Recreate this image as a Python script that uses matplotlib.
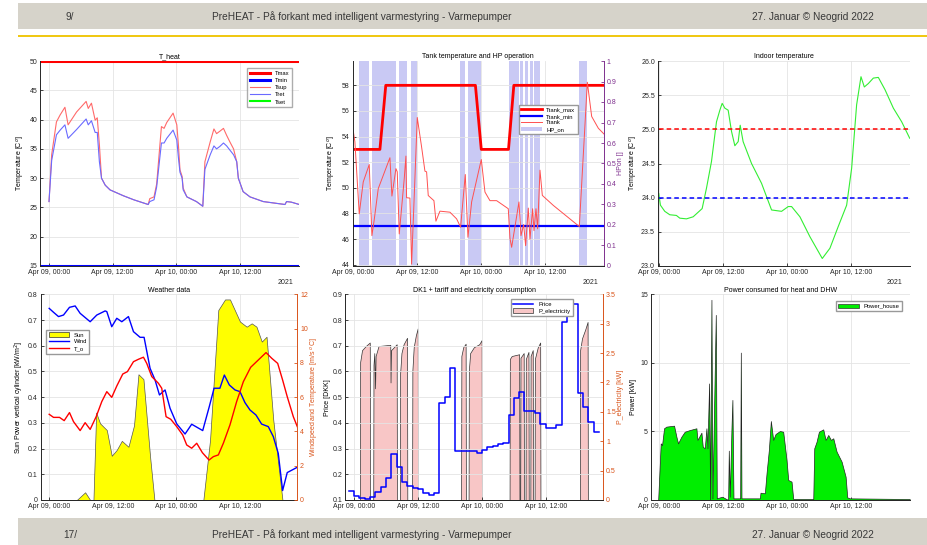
import matplotlib.pyplot as plt
from matplotlib.patches import Rectangle, Patch
from matplotlib.lines import Line2D

plt.rcParams['font.family'] = ['Liberation Sans', 'DejaVu Sans']
plt.rcParams['font.size'] = 5

# --- Zeitachse (Stunden ab Apr 09, 00:00) ---
tick_hours = [0, 12, 24, 36]
tick_labels = ['Apr 09, 00:00', 'Apr 09, 12:00', 'Apr 10, 00:00', 'Apr 10, 12:00']

# --- Panel 1: T_heat ---
heat_h = [0, 0.5, 1.4, 2.1, 3.0, 3.6, 5.2, 7.0, 7.4, 8.0, 8.7, 9.1, 9.5, 9.9, 10.6, 11.5, 14, 16,
          18.7, 19.0, 19.8, 20.3, 21.2, 21.7, 22.2, 23.4, 24.1, 24.4, 24.7, 25.1, 25.3, 26.0, 27.8,
          29.0, 29.4, 30.4, 31.1, 31.6, 32.2, 32.9, 33.5, 34.1, 34.8, 35.4, 35.7, 36.6, 37.9, 40.4,
          44.5, 44.8, 45.7, 47.2]
t_sup = [26.0, 34.0, 39.6, 40.8, 42.1, 39.1, 41.3, 43.1, 41.9, 42.8, 39.9, 40.3, 35.7, 30.0, 28.8,
         28.0, 27.0, 26.3, 25.5, 26.5, 26.8, 29.0, 38.8, 38.5, 39.5, 41.1, 39.1, 35.7, 31.4, 30.3,
         28.3, 26.8, 26.0, 25.2, 32.8, 36.2, 38.4, 37.6, 38.0, 38.5, 37.3, 36.2, 35.0, 32.8, 30.0,
         27.7, 26.8, 26.0, 25.5, 26.0, 25.9, 25.5]
t_ret = [26.0, 33.0, 37.4, 38.2, 39.1, 36.8, 38.3, 40.1, 39.1, 39.8, 37.8, 37.8, 32.8, 30.0, 28.8,
         28.0, 27.0, 26.3, 25.5, 26.0, 26.3, 28.5, 36.0, 36.0, 36.8, 38.2, 36.5, 33.5, 31.0, 30.0,
         28.0, 26.8, 26.0, 25.2, 31.5, 34.0, 35.5, 35.0, 35.4, 36.0, 35.5, 34.8, 34.0, 32.8, 30.0,
         27.7, 26.8, 26.0, 25.5, 26.0, 25.9, 25.5]
t_max_heat = 50
t_min_heat = 15

# --- Panel 2: Tank ---
tank_max_h = [0, 5.0, 6.1, 22.9, 24.0, 29.1, 30.1, 47.0]
tank_max_v = [53, 53, 58, 58, 53, 53, 58, 58]
tank_min = 47
tank_h = [0, 0.31, 1.125, 1.875, 3.0, 3.5, 3.94, 4.69, 6.875, 7.25, 8.0, 8.25, 8.625, 9.56, 9.875,
          10.0, 10.625, 10.94, 12.0, 12.81, 13.44, 13.75, 14.06, 15.125, 15.5, 16.25, 18.125,
          19.375, 20.125, 21.0, 21.5, 22.19, 24.0, 24.69, 25.625, 26.875, 29.06, 29.375, 29.69,
          31.06, 31.44, 31.94, 32.31, 32.81, 33.125, 33.625, 33.875, 34.25, 34.56, 35.0, 35.44,
          37.5, 42.375, 43.875, 44.69, 45.94, 47.0]
tank_v = [54.44, 53.6, 47.97, 50.46, 51.82, 46.27, 47.53, 49.94, 52.35, 49.36, 51.5, 51.25, 46.4,
          50.72, 52.48, 49.23, 49.2, 44.05, 55.49, 53.2, 51.3, 51.25, 49.4, 49.0, 47.4, 48.18,
          48.1, 47.58, 46.93, 51.04, 46.14, 48.9, 52.21, 49.67, 49.0, 49.0, 48.37, 46.06, 45.36,
          48.9, 46.27, 47.14, 45.49, 48.42, 46.0, 48.37, 46.66, 48.37, 46.8, 51.38, 49.41, 48.63,
          46.98, 58.24, 55.57, 54.65, 54.2]
hp_start = [1.1, 3.6, 8.6, 10.9, 20.1, 21.5, 29.2, 31.2, 32.2, 33.1, 33.9, 42.4]
hp_end = [3.0, 8.0, 10.0, 12.0, 21.0, 24.0, 31.1, 31.9, 32.8, 33.6, 35.0, 43.9]

# --- Panel 3: Indoor ---
indoor_h = [0, 0.31, 1.125, 2.06, 3.3, 3.94, 5.19, 6.44, 8.125, 8.94, 9.875, 10.81, 11.44, 11.875,
            12.375, 13.0, 13.625, 14.25, 14.875, 15.25, 15.8, 17.375, 19.25, 21.125, 23.0, 24.25,
            24.875, 26.44, 28.3, 30.625, 32.06, 33.625, 35.19, 36.125, 37.06, 37.875, 38.5, 39.25,
            40.19, 41.125, 42.375, 43.94, 45.5, 47.0]
indoor_v = [24.06, 23.89, 23.8, 23.75, 23.74, 23.7, 23.69, 23.72, 23.84, 24.14, 24.53, 25.11, 25.28,
            25.38, 25.31, 25.28, 24.97, 24.76, 24.82, 25.06, 24.82, 24.5, 24.21, 23.82, 23.8, 23.87,
            23.87, 23.72, 23.43, 23.11, 23.26, 23.58, 23.89, 24.43, 25.36, 25.77, 25.62, 25.67,
            25.75, 25.76, 25.58, 25.31, 25.11, 24.87]
indoor_upper = 25
indoor_lower = 24

# --- Panel 4: Weather ---
sun_h = [0, 5.2, 6.78, 7.73, 8.35, 8.86, 9.6, 10.87, 11.8, 12.75, 13.7, 14.95, 16.0, 16.84, 17.78,
         19.03, 19.85, 29.08, 30.34, 31.9, 33.17, 34.1, 35.99, 37.25, 38.2, 39.1, 40.1, 41.0,
         42.27, 44.0, 46.8]
sun_v = [0, 0, 0.03, 0, 0, 0.34, 0.298, 0.272, 0.172, 0.195, 0.23, 0.207, 0.29, 0.489, 0.47,
         0.169, 0, 0, 0.233, 0.739, 0.78, 0.78, 0.694, 0.674, 0.687, 0.674, 0.616, 0.635, 0.311,
         0, 0]
wind_h = [0, 0.82, 1.76, 2.7, 3.83, 4.9, 5.84, 7.73, 8.98, 10.55, 10.87, 11.8, 12.75, 13.7, 14.95,
          15.9, 17.15, 17.9, 19.03, 19.97, 20.8, 21.86, 22.8, 24.06, 25.63, 26.88, 28.96, 30.2,
          31.1, 32.2, 33.04, 33.98, 35.05, 35.99, 36.93, 37.88, 39.0, 40.07, 41.33, 42.27, 43.21,
          44.03, 44.9, 46.8]
wind_v = [11.18, 10.95, 10.7, 10.79, 11.24, 11.32, 10.89, 10.4, 10.79, 11.03, 10.99, 10.11, 10.6,
          10.4, 10.7, 9.82, 9.49, 9.49, 7.68, 7.0, 6.13, 6.42, 5.35, 4.44, 3.85, 4.42, 4.05, 5.45,
          6.52, 6.52, 7.29, 6.71, 6.42, 6.32, 5.68, 5.25, 4.96, 4.43, 4.28, 3.7, 2.72, 0.55, 1.6,
          1.91]
to_h = [0, 0.82, 1.95, 2.83, 3.83, 4.59, 5.84, 6.78, 7.73, 8.86, 9.92, 10.87, 11.8, 12.75, 13.88,
        14.76, 15.9, 16.84, 17.78, 18.4, 19.35, 20.6, 21.23, 22.05, 22.93, 24.06, 25.19, 25.94,
        26.88, 27.83, 28.9, 30.15, 30.97, 31.91, 32.85, 34.1, 35.36, 36.62, 38.0, 39.45, 40.9,
        41.97, 43.1, 44.03, 44.9, 46.05, 46.8]
to_v = [5.0, 4.82, 4.82, 4.63, 5.1, 4.57, 4.05, 4.51, 4.12, 4.86, 5.74, 6.32, 5.99, 6.65, 7.35,
        7.49, 8.07, 8.21, 8.33, 7.97, 7.2, 6.81, 6.52, 4.86, 4.71, 4.28, 3.79, 3.21, 3.02, 3.31,
        2.76, 2.33, 2.53, 2.63, 3.31, 4.38, 5.74, 6.9, 7.74, 8.17, 8.6, 8.27, 7.97, 7.0, 6.03,
        4.86, 4.28]

# --- Panel 5: Preis und Stromverbrauch ---
price_h = list(range(-1, 47))
price_v = [0.136, 0.115, 0.106, 0.104, 0.113, 0.13, 0.152, 0.187, 0.277, 0.227, 0.171, 0.154,
           0.145, 0.141, 0.126, 0.119, 0.126, 0.478, 0.499, 0.612, 0.292, 0.292, 0.292, 0.292,
           0.281, 0.294, 0.307, 0.311, 0.316, 0.32, 0.43, 0.495, 0.519, 0.447, 0.447, 0.44, 0.395,
           0.379, 0.379, 0.392, 0.794, 0.835, 0.861, 0.517, 0.463, 0.405, 0.366, 0.366]
pel_h = [-1.0, 1.1, 1.15, 1.5, 2.2, 2.95, 3.0, 3.6, 3.65, 3.8, 3.95, 4.05, 4.6, 6.8, 6.85, 6.95,
         8.0, 8.05, 8.6, 8.65, 8.9, 9.3, 9.95, 10.0, 10.9, 10.95, 11.2, 11.6, 11.95, 12.0, 20.1,
         20.15, 20.5, 20.95, 21.0, 21.5, 21.55, 21.8, 22.5, 23.5, 23.95, 24.0, 29.2, 29.25, 29.6,
         31.0, 31.05, 31.2, 31.25, 31.85, 31.9, 32.2, 32.25, 32.75, 32.8, 33.1, 33.15, 33.55, 33.6,
         33.9, 33.95, 34.5, 34.95, 35.0, 42.4, 42.45, 42.8, 43.4, 43.85, 43.9, 46.0]
pel_kw = [0, 0, 2.35, 2.55, 2.62, 2.68, 0, 0, 2.3, 2.5, 1.9, 2.45, 2.62, 2.64, 2.0, 2.55, 2.65, 0,
          0, 2.15, 2.5, 2.65, 2.76, 0, 0, 2.2, 2.6, 2.8, 2.92, 0, 0, 2.45, 2.6, 2.66, 0, 0, 2.2,
          2.5, 2.6, 2.65, 2.72, 0, 0, 2.4, 2.45, 2.48, 0, 0, 2.42, 2.5, 0, 0, 2.4, 2.52, 0, 0,
          2.45, 2.55, 0, 0, 2.4, 2.6, 2.68, 0, 0, 2.55, 2.75, 2.9, 3.03, 0, 0]

# --- Panel 6: Leistung Haus ---
house_h = [-0.1, 0.375, 0.625, 1.0, 1.44, 2.875, 3.31, 3.625, 4.25, 4.875, 5.81, 7.06, 7.25, 8.0,
           8.25, 8.625, 8.94, 9.125, 9.44, 9.625, 9.875, 10.06, 10.69, 10.875, 11.875, 13.0,
           13.125, 13.31, 13.625, 13.8, 14.0, 15.25, 15.375, 15.5, 18.94, 19.06, 19.875, 20.19,
           20.625, 21.0, 21.44, 21.875, 22.69, 23.31, 23.94, 24.25, 24.875, 25.19, 28.94, 29.125,
           29.56, 30.0, 30.81, 31.25, 31.75, 32.25, 32.69, 33.31, 34.25, 35.0, 35.31, 35.8, 47.0]
house_kw = [0, 4.13, 4.0, 5.23, 5.35, 5.42, 4.62, 4.13, 4.62, 4.98, 5.1, 5.23, 4.38, 4.91, 3.89,
            3.77, 5.23, 3.77, 8.5, 0, 14.6, 0.12, 13.5, 0.12, 0.24, 0, 3.6, 0.24, 5.23, 7.3, 0.12,
            0.12, 10.75, 0.12, 0.12, 0.53, 0.49, 1.94, 3.65, 5.76, 4.38, 4.81, 5.03, 4.98, 2.92,
            1.46, 1.34, 0.07, 0.07, 3.77, 4.25, 4.98, 5.15, 4.38, 4.74, 4.38, 4.5, 3.53, 2.8, 1.7,
            0.19, 0.12, 0.07]

ORANGE = '#d95319'
PURPLE = '#7e2f8e'
DARK = '#262626'

W, H = 927, 545


def rect(l, r, t, b):
    return [l / W, 1 - b / H, (r - l) / W, (b - t) / H]


def style(ax, xlim):
    ax.set_xlim(*xlim)
    ax.set_xticks(tick_hours)
    ax.set_xticklabels(tick_labels)
    ax.grid(True, color='#e4e4e4', linewidth=0.6)
    ax.set_axisbelow(True)
    for s in ['top', 'right']:
        ax.spines[s].set_visible(False)
    for s in ['left', 'bottom']:
        ax.spines[s].set_color(DARK)
        ax.spines[s].set_linewidth(0.7)
    ax.tick_params(direction='in', length=2.5, width=0.6, labelsize=5, colors=DARK, pad=2)


def style_right(ax2, color):
    for s in ['top', 'left', 'bottom']:
        ax2.spines[s].set_visible(False)
    ax2.spines['right'].set_color(color)
    ax2.spines['right'].set_linewidth(0.7)
    ax2.tick_params(direction='in', length=2.5, width=0.6, labelsize=5, colors=color, pad=2)


fig = plt.figure(figsize=(9.27, 5.45), dpi=100)

# Kopf- und Fußzeile der Folien
fig.add_artist(Rectangle((18 / W, 1 - 29 / H), 1, 26 / H, transform=fig.transFigure,
                         facecolor='#d6d3ca', edgecolor='none', zorder=0))
fig.add_artist(Rectangle((18 / W, 1 - 37 / H), 1, 2.5 / H, transform=fig.transFigure,
                         facecolor='#f0c814', edgecolor='none', zorder=0))
fig.add_artist(Rectangle((18 / W, 0), 1, 27 / H, transform=fig.transFigure,
                         facecolor='#d6d3ca', edgecolor='none', zorder=0))
head_font = ['Liberation Sans', 'DejaVu Sans']
for y, nr in [(1 - 17 / H, '9/'), (10 / H, '17/')]:
    fig.text(70 / W, y, nr, ha='center', va='center', fontsize=7.3, color='#383838', family=head_font)
    fig.text(362 / W, y, 'PreHEAT - På forkant med intelligent varmestyring - Varmepumper',
             ha='center', va='center', fontsize=7.3, color='#383838', family=head_font)
    fig.text(813 / W, y, '27. Januar © Neogrid 2022', ha='center', va='center', fontsize=7.3,
             color='#383838', family=head_font)

# --- Panel 1 ---
ax1 = fig.add_axes(rect(40, 299.3, 61, 266))
ax1.plot([-1.7, 47.2], [t_max_heat, t_max_heat], color='#ff0000', lw=2.2, label='Tmax')
ax1.plot([-1.7, 47.2], [t_min_heat, t_min_heat], color='#0000ff', lw=2.2, label='Tmin')
ax1.plot(heat_h, t_sup, color='#ff6a6a', lw=0.8, label='Tsup')
ax1.plot(heat_h, t_ret, color='#6a6aff', lw=0.8, label='Tret')
ax1.plot([], [], color='#00ff00', lw=1.5, label='Tset')
style(ax1, (-1.7, 47.2))
ax1.set_ylim(15, 50)
ax1.set_yticks(range(15, 51, 5))
ax1.set_title('T_heat', fontsize=5, pad=2)
ax1.set_ylabel('Temperature [C$^o$]', fontsize=5, labelpad=2)
ax1.legend(loc='upper right', bbox_to_anchor=(0.985, 0.98), fontsize=4.2, frameon=True,
           fancybox=False, edgecolor='#999999', handlelength=3.5, borderpad=0.5, labelspacing=0.35)

# --- Panel 2 ---
ax2 = fig.add_axes(rect(352.7, 604, 61, 266))
ax2r = ax2.twinx()
for s, e in zip(hp_start, hp_end):
    ax2r.fill_between([s, e], 0, 1, color='#c9c9f4', lw=0)
ax2r.set_ylim(0, 1)
ax2r.set_yticks([i / 10 for i in range(11)])
ax2r.set_yticklabels(['0'] + ['%.1f' % (i / 10) for i in range(1, 10)] + ['1'])
style_right(ax2r, PURPLE)
ax2r.set_ylabel('HPon []', fontsize=5, color=PURPLE, labelpad=0.5)
ax2.set_zorder(ax2r.get_zorder() + 1)
ax2.patch.set_visible(False)
ax2.plot(tank_max_h, tank_max_v, color='#ff0000', lw=2.0, label='Ttank_max')
ax2.plot([0, 47], [tank_min, tank_min], color='#0000ff', lw=1.6, label='Ttank_min')
ax2.plot(tank_h, tank_v, color='#ff5050', lw=0.7, label='Ttank')
style(ax2, (-0.1, 47))
ax2.set_ylim(43.9, 59.9)
ax2.set_yticks(range(44, 59, 2))
ax2.set_title('Tank temperature and HP operation', fontsize=5, pad=2)
ax2.set_ylabel('Temperature [C$^o$]', fontsize=5, labelpad=3)
h2, l2 = ax2.get_legend_handles_labels()
h2.append(Patch(facecolor='#c9c9f4', edgecolor='none'))
l2.append('HP_on')
ax2.legend(h2, l2, loc='upper left', bbox_to_anchor=(0.65, 0.8), fontsize=4.2, frameon=True,
           fancybox=False, edgecolor='#999999', handlelength=3.5, borderpad=0.4, labelspacing=0.25,
           framealpha=1)

# --- Panel 3 ---
ax3 = fig.add_axes(rect(657.7, 909.7, 61, 266))
ax3.plot(indoor_h, indoor_v, color='#33ee33', lw=0.8)
ax3.plot([0, 47], [indoor_upper, indoor_upper], color='#ff0000', lw=1.1, ls=(0, (3, 2)))
ax3.plot([0, 47], [indoor_lower, indoor_lower], color='#0000ff', lw=1.1, ls=(0, (3, 2)))
style(ax3, (-0.2, 47))
ax3.set_ylim(23, 26)
ax3.set_yticks([23, 23.5, 24, 24.5, 25, 25.5, 26])
ax3.set_title('Indoor temperature', fontsize=5, pad=2)
ax3.set_ylabel('Temperature [C$^o$]', fontsize=5, labelpad=1)

# Jahreszahl unter den oberen Achsen
for xr in [293, 598, 902]:
    fig.text(xr / W, 1 - 282 / H, '2021', ha='right', va='center', fontsize=5, color=DARK)

# --- Panel 4 ---
ax4 = fig.add_axes(rect(40.7, 297.3, 294.3, 500))
ax4.fill_between(sun_h, 0, sun_v, facecolor='#ffff00', edgecolor='#555555', lw=0.5)
style(ax4, (-1.6, 46.8))
ax4.set_ylim(0, 0.8)
ax4.set_yticks([i / 10 for i in range(9)])
ax4.set_yticklabels(['0'] + ['%.1f' % (i / 10) for i in range(1, 9)])
ax4.set_title('Weather data', fontsize=5, pad=2)
ax4.set_ylabel('Sun Power vertical cylinder [kW/m$^2$]', fontsize=5, labelpad=1.5)
ax4r = ax4.twinx()
ax4r.plot(wind_h, wind_v, color='#0000ff', lw=1.0)
ax4r.plot(to_h, to_v, color='#ff0000', lw=1.0)
ax4r.set_ylim(0, 12)
ax4r.set_yticks(range(0, 13, 2))
style_right(ax4r, ORANGE)
ax4r.set_ylabel('Windspeed and Temperature [m/s $^o$C]', fontsize=5, color=ORANGE, labelpad=1)
h4 = [Patch(facecolor='#ffff00', edgecolor='#333333', lw=0.5),
      Line2D([], [], color='#0000ff', lw=1.0), Line2D([], [], color='#ff0000', lw=1.0)]
ax4r.legend(h4, ['Sun', 'Wind', 'T_o'], loc='upper left', bbox_to_anchor=(0.01, 0.84),
            fontsize=4.2, frameon=True, fancybox=False, edgecolor='#999999', handlelength=3.5,
            borderpad=0.4, labelspacing=0.3, framealpha=1)

# --- Panel 5 ---
ax5 = fig.add_axes(rect(345, 603.3, 294.3, 500))
ax5r = ax5.twinx()
ax5r.fill_between(pel_h, 0, pel_kw, facecolor='#f8c6c6', edgecolor='#333333', lw=0.5)
ax5r.set_ylim(0, 3.5)
ax5r.set_yticks([0, 0.5, 1, 1.5, 2, 2.5, 3, 3.5])
ax5r.set_yticklabels(['0', '0.5', '1', '1.5', '2', '2.5', '3', '3.5'])
style_right(ax5r, ORANGE)
ax5r.set_ylabel('P_electricity [kW]', fontsize=5, color=ORANGE, labelpad=1)
ax5.set_zorder(ax5r.get_zorder() + 1)
ax5.patch.set_visible(False)
ax5.step(price_h, price_v, where='post', color='#0000ff', lw=1.1)
style(ax5, (-1.7, 46.8))
ax5.set_ylim(0.1, 0.9)
ax5.set_yticks([i / 10 for i in range(1, 10)])
ax5.set_title('DK1 + tariff and electricity consumption', fontsize=5, pad=2)
ax5.set_ylabel('Price [DKK]', fontsize=5, labelpad=1)
h5 = [Line2D([], [], color='#0000ff', lw=1.1),
      Patch(facecolor='#f8c6c6', edgecolor='#333333', lw=0.5)]
ax5.legend(h5, ['Price', 'P_electricity'], loc='upper left', bbox_to_anchor=(0.63, 0.99),
           fontsize=4.2, frameon=True, fancybox=False, edgecolor='#999999', handlelength=3.5,
           borderpad=0.4, labelspacing=0.3, framealpha=1)

# --- Panel 6 ---
ax6 = fig.add_axes(rect(650.7, 909.7, 294.3, 500))
ax6.fill_between(house_h, 0, house_kw, facecolor='#00ee00', edgecolor='#222222', lw=0.5)
style(ax6, (-1.5, 47))
ax6.set_ylim(0, 15)
ax6.set_yticks([0, 5, 10, 15])
ax6.set_title('Power consumed for heat and DHW', fontsize=5, pad=2)
ax6.set_ylabel('Power [kW]', fontsize=5, labelpad=2)
ax6.legend([Patch(facecolor='#00ee00', edgecolor='#333333', lw=0.5)], ['Power_house'],
           loc='upper right', bbox_to_anchor=(0.98, 0.98), fontsize=4.2, frameon=True,
           fancybox=False, edgecolor='#999999', handlelength=3.5, borderpad=0.4, framealpha=1)

fig.savefig('out.png', dpi=100)
